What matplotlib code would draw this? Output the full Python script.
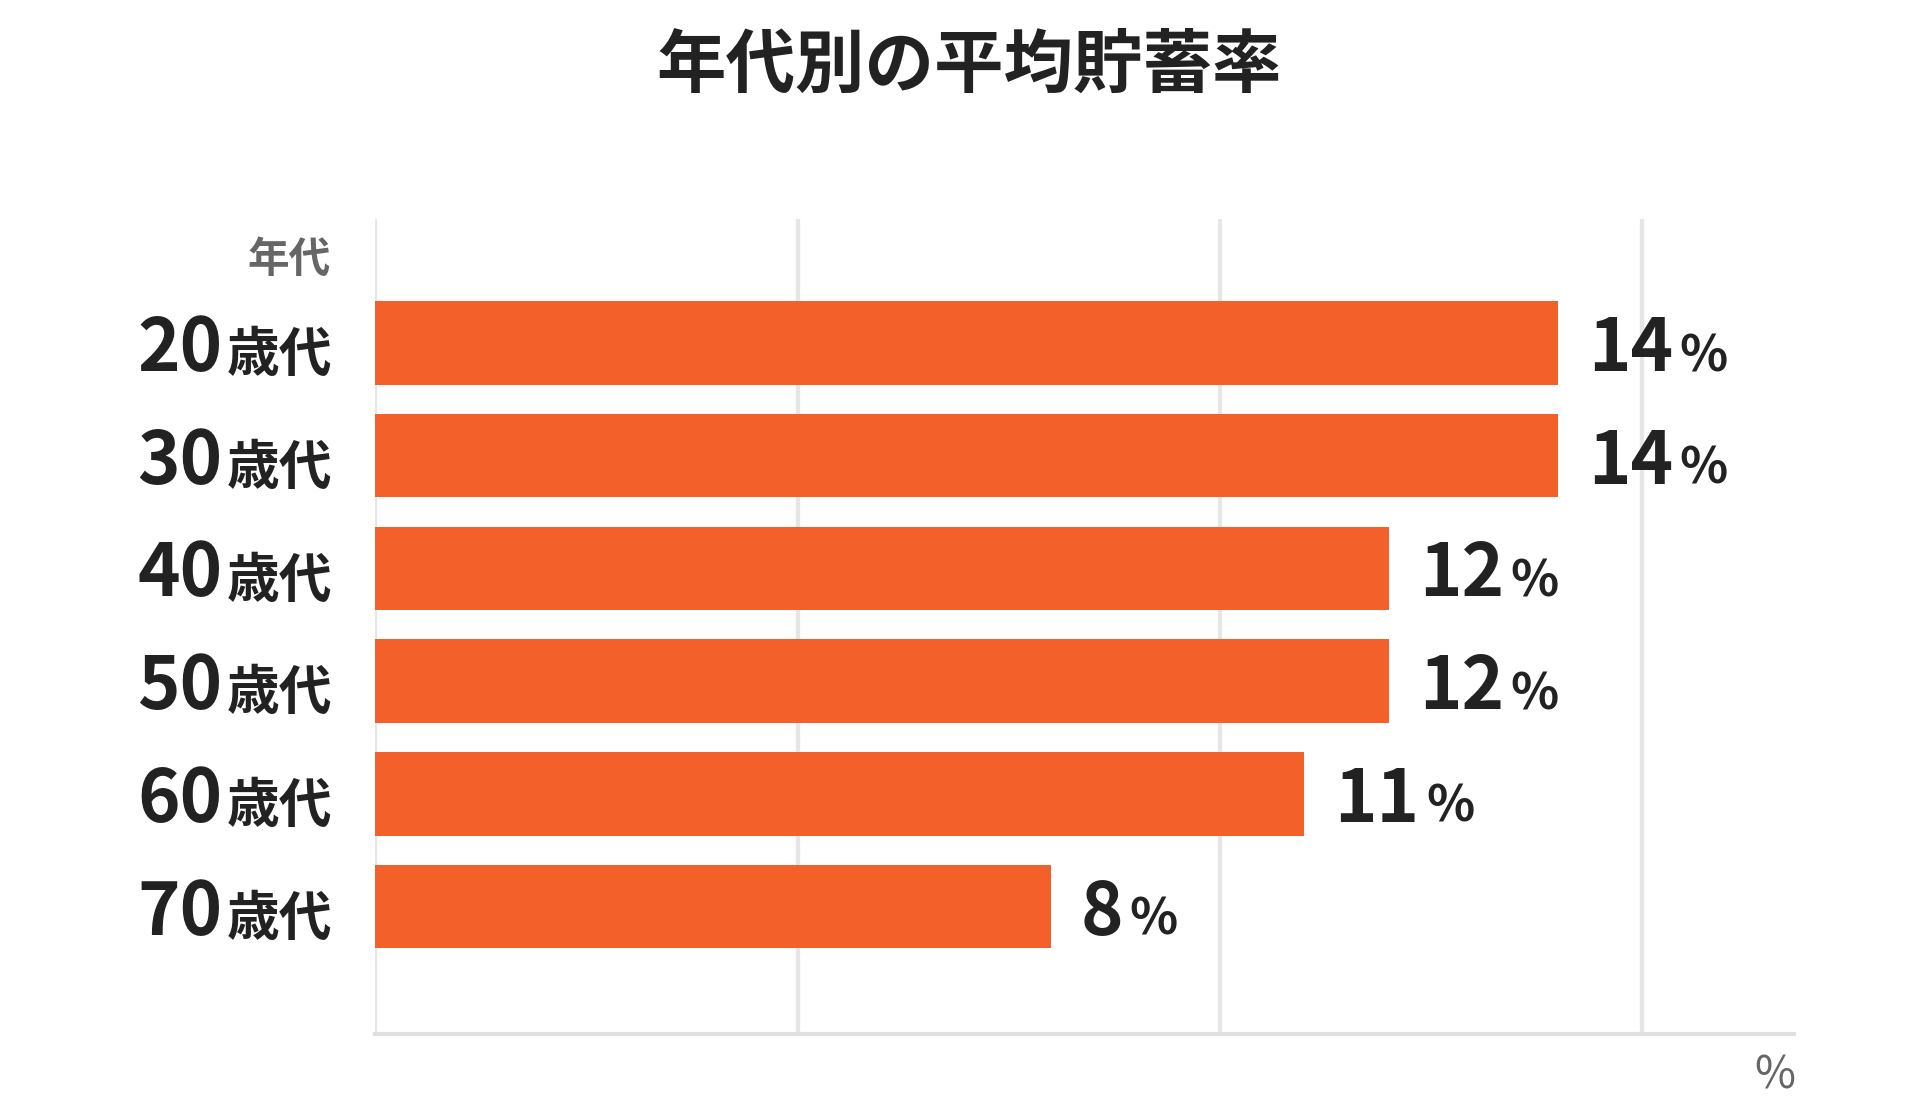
import matplotlib

matplotlib.use("Agg")
import matplotlib.pyplot as plt
from matplotlib.transforms import offset_copy, blended_transform_factory

plt.rcParams["font.family"] = ["Noto Sans CJK JP", "DejaVu Sans"]

AGES = ["20", "30", "40", "50", "60", "70"]
RATES = [14, 14, 12, 12, 11, 8]

BAR_COLOR = "#f4602a"
TEXT_COLOR = "#222222"
GREY = "#666666"

fig = plt.figure(figsize=(19.2, 11.04), dpi=100)
ax = fig.add_axes([0.1955, 0.0635, 0.739, 0.7381])

ypos = list(range(len(AGES)))
ax.barh(ypos, RATES, height=0.74, color=BAR_COLOR, zorder=3)
ax.set_xlim(0, 16.8)
ax.set_ylim(6.13, -1.10)
ax.set_xticks([0, 5, 10, 15])
ax.set_yticks([])
ax.tick_params(axis="x", length=0, labelbottom=False)
ax.grid(True, axis="x", color="#e6e6e6", linewidth=3, zorder=0)
for s in ("top", "right", "left"):
    ax.spines[s].set_visible(False)
ax.spines["bottom"].set_color("#e0e0e0")
ax.spines["bottom"].set_linewidth(3)

trans = blended_transform_factory(ax.transAxes, ax.transData)
for y, age, rate in zip(ypos, AGES, RATES):
    t_unit = offset_copy(trans, fig=fig, x=-43, y=-28, units="dots")
    ax.text(0, y, "歳代", transform=t_unit, ha="right", va="baseline",
            fontsize=38, fontweight="bold", color=TEXT_COLOR)
    t_num = offset_copy(trans, fig=fig, x=-153, y=-28, units="dots")
    ax.text(0, y, age, transform=t_num, ha="right", va="baseline",
            fontsize=52, fontweight="bold", color=TEXT_COLOR)

    label = str(rate)
    t_val = offset_copy(ax.transData, fig=fig, x=30, y=-28, units="dots")
    ax.text(rate, y, label, transform=t_val, ha="left", va="baseline",
            fontsize=52, fontweight="bold", color=TEXT_COLOR)
    t_pct = offset_copy(ax.transData, fig=fig, x=34 + 44 * len(label), y=-28, units="dots")
    ax.text(rate, y, "%", transform=t_pct, ha="left", va="baseline",
            fontsize=36, fontweight="bold", color=TEXT_COLOR)

t_head = offset_copy(ax.transAxes, fig=fig, x=-45, y=-20, units="dots")
ax.text(0, 1, "年代", transform=t_head, ha="right", va="top",
        fontsize=30, fontweight="bold", color=GREY)
fig.text(0.935, 0.005, "%", ha="right", va="bottom", fontsize=32, color=GREY)

fig.text(0.505, 0.94, "年代別の平均貯蓄率", ha="center", va="center",
         fontsize=50, fontweight="bold", color=TEXT_COLOR)

fig.savefig("out.png", dpi=100)
